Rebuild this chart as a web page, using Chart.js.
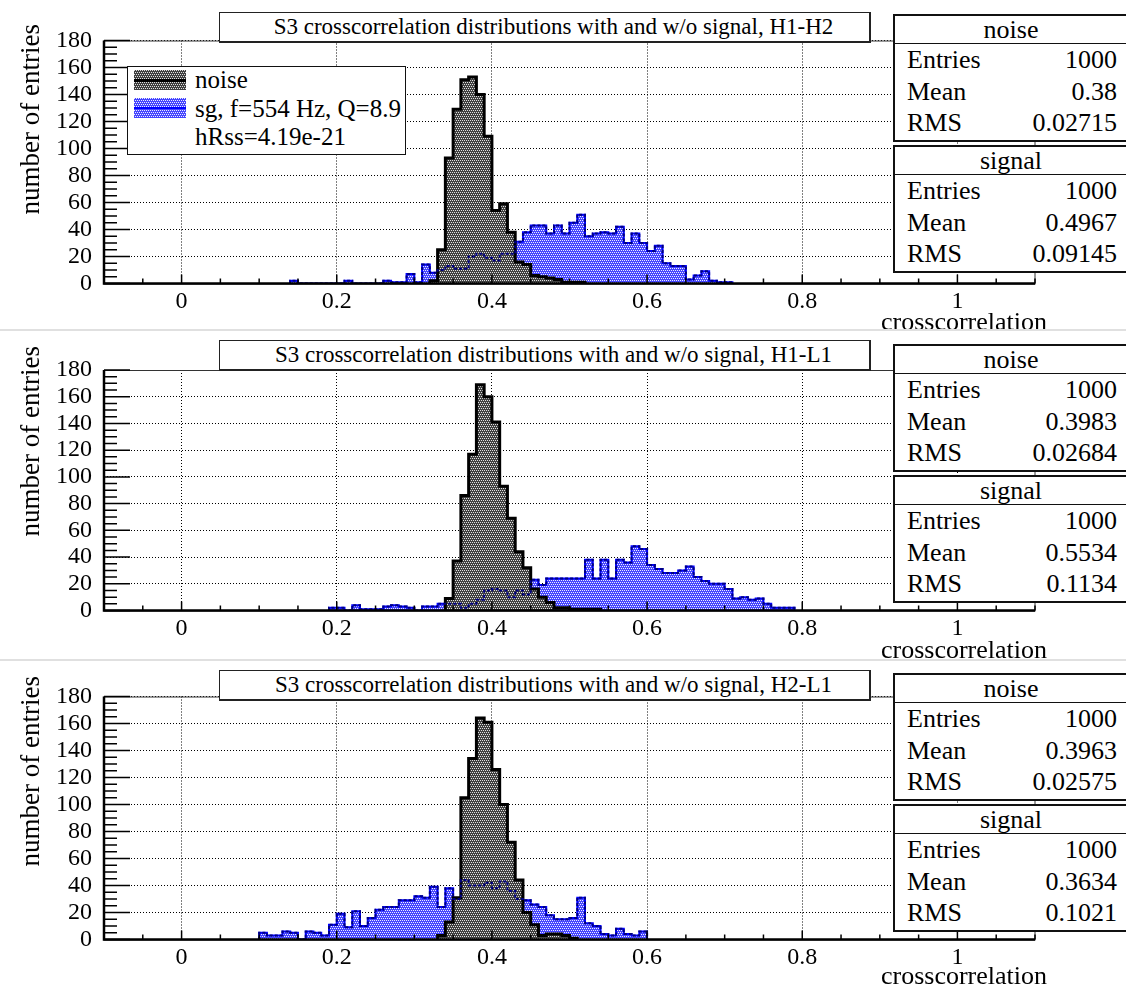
<!DOCTYPE html>
<html>
<head>
<meta charset="utf-8">
<script src="https://cdn.jsdelivr.net/npm/chart.js@4.4.0/dist/chart.umd.min.js"></script>
<style>
  body { margin: 0; background: #fff; }
  #page { position: relative; width: 1126px; height: 990px; overflow: hidden; background: #fff;
          font-family: "Liberation Serif", "Times New Roman", serif; color: #000; }
  .panel { position: absolute; left: 0; width: 1126px; height: 330px; }
  .panel canvas { position: absolute; left: 0; top: 0; }
  .sep { position: absolute; left: 0; width: 1126px; height: 2px; background: #e0e0e0; }
  .title { position: absolute; left: 219px; width: 652px; height: 31px; box-sizing: border-box;
           border: 1px solid #222; border-right-width: 2px; border-bottom-width: 2px; background: #fff;
           font-size: 23px; line-height: 28px; text-align: center; white-space: nowrap; padding-left: 18px; }
  .ytitle { position: absolute; left: 17px; width: 260px; font-size: 27px; line-height: 27px;
            text-align: right; white-space: nowrap; transform-origin: 0 0; transform: rotate(-90deg); }
  .xtitle { position: absolute; left: 797px; width: 250px; font-size: 26px; line-height: 26px;
            text-align: right; white-space: nowrap; }
  .stats { position: absolute; left: 893px; width: 236px; box-sizing: border-box; padding-bottom: 1px;
           border: 2px solid #111; background: #fff; font-size: 26px; }
  .stats .head { height: 27px; line-height: 27px; text-align: center; border-bottom: 1.5px solid #111; }
  .stats .row { height: 31.5px; line-height: 31px; padding: 0 10px 0 12px; display: flex; justify-content: space-between; }
  .legend { position: absolute; left: 127px; top: 66px; width: 279px; height: 89px; box-sizing: border-box;
            border: 1.5px solid #111; background: #fff; font-size: 25px; }
  .legend .item { position: absolute; left: 67px; white-space: nowrap; line-height: 28px; }
  .legend .swatch { position: absolute; left: 6px; width: 52px; height: 20px; image-rendering: pixelated; background-size: 4px 4px; }
  .legend .swatch i { position: absolute; left: 0; right: 0; top: 9px; }
</style>
</head>
<body>
<div id="page"></div>
<script>
// ---- data: counts per 0.01-wide bin, first bin starts at the given edge ----
const binWidth = 0.01;
const xTickValues = [0, 0.2, 0.4, 0.6, 0.8, 1];
const yTickValues = [0, 20, 40, 60, 80, 100, 120, 140, 160, 180];
const statNames = ['Entries', 'Mean', 'RMS'];

// H1-H2
const h1h2NoiseStart = 0.32;
const h1h2Noise = [2, 25, 93, 129, 151, 153, 140, 109, 54, 59, 38, 16, 14, 6, 5, 4, 3, 1, 1, 1];
const h1h2SignalStart = 0.14;
const h1h2Signal = [2, 0, 0, 0, 0, 0, 0, 2, 0, 0, 0, 0, 2, 1, 1, 7, 1, 14, 8, 10, 13, 11, 11, 20, 22, 19,
  17, 22, 22, 31, 38, 43, 43, 37, 43, 37, 45, 51, 35, 37, 38, 37, 42, 30, 37, 30, 24, 28, 15, 13, 13,
  3, 6, 9, 2, 1, 1];
const h1h2NoiseStats = [1000, 0.38, 0.02715];
const h1h2SignalStats = [1000, 0.4967, 0.09145];

// H1-L1
const h1l1NoiseStart = 0.34;
const h1l1Noise = [9, 37, 86, 117, 169, 160, 141, 93, 69, 44, 32, 16, 10, 6, 2, 2, 1, 1, 1, 1];
const h1l1SignalStart = 0.19;
const h1l1Signal = [2, 2, 0, 4, 1, 1, 1, 3, 4, 3, 2, 0, 3, 3, 5, 5, 5, 2, 5, 8, 15, 16, 15, 10, 15, 12,
  23, 19, 24, 24, 24, 24, 24, 38, 24, 38, 24, 38, 36, 48, 46, 34, 31, 28, 28, 30, 33, 25, 22, 20, 20,
  16, 9, 10, 8, 9, 5, 2, 2, 2];
const h1l1NoiseStats = [1000, 0.3983, 0.02684];
const h1l1SignalStats = [1000, 0.5534, 0.1134];

// H2-L1
const h2l1NoiseStart = 0.33;
const h2l1Noise = [3, 13, 31, 105, 134, 164, 161, 126, 100, 72, 44, 20, 11, 3, 4, 4, 3, 1];
const h2l1SignalStart = 0.10;
const h2l1Signal = [5, 3, 3, 6, 5, 0, 6, 5, 3, 11, 19, 9, 21, 10, 16, 22, 24, 24, 29, 29, 32, 31, 39, 24,
  38, 30, 44, 40, 40, 42, 38, 43, 36, 30, 29, 26, 24, 18, 15, 15, 16, 31, 12, 10, 4, 3, 8, 4, 3, 6];
const h2l1NoiseStats = [1000, 0.3963, 0.02575];
const h2l1SignalStats = [1000, 0.3634, 0.1021];

const titleBase = 'S3 crosscorrelation distributions with and w/o signal, ';

// ---- fill patterns (ROOT-like stipple): base colour with a light dot every other pixel ----
function makeTile(base, dot) {
  const c = document.createElement('canvas');
  c.width = 4; c.height = 4;
  const g = c.getContext('2d');
  g.fillStyle = base;
  g.fillRect(0, 0, 4, 4);
  g.fillStyle = dot;
  [[0, 0], [2, 0], [1, 2], [3, 2]].forEach(([x, y]) => g.fillRect(x, y, 1, 1));
  return c;
}
const noiseTile = makeTile('#404040', '#e0e0e0');
const signalTile = makeTile('#4646ff', '#ececff');
const noiseFill = noiseTile.getContext('2d').createPattern(noiseTile, 'repeat');
const signalFill = signalTile.getContext('2d').createPattern(signalTile, 'repeat');

function histPoints(start, counts) {
  const first = Math.round(start / binWidth);
  const pts = [{ x: start, y: 0 }];
  counts.forEach((c, i) => pts.push({ x: (first + i) * binWidth, y: c }));
  pts.push({ x: (first + counts.length) * binWidth, y: 0 });
  return pts;
}

// frame, axes and inward ticks drawn ROOT style
const rootFrame = {
  id: 'rootFrame',
  afterDatasetsDraw(chart) {
    const { ctx, chartArea: a, scales: { x, y } } = chart;
    ctx.save();
    ctx.strokeStyle = '#333';
    ctx.lineWidth = 1;
    ctx.strokeRect(a.left, a.top + 0.5, a.right - a.left, a.bottom - a.top);
    ctx.strokeStyle = '#000';
    ctx.lineWidth = 2.5;
    ctx.beginPath();
    ctx.moveTo(a.left, a.top);
    ctx.lineTo(a.left, a.bottom);
    ctx.lineTo(a.right, a.bottom);
    ctx.stroke();
    ctx.lineWidth = 1.5;
    ctx.beginPath();
    for (let v = 0; v <= y.max; v += 5) {
      const py = y.getPixelForValue(v);
      const len = v % 20 === 0 ? 26 : 13;
      ctx.moveTo(a.left, py);
      ctx.lineTo(a.left + len, py);
    }
    for (let i = -2; i <= 22; i++) {
      const px = x.getPixelForValue(i * 0.05);
      const len = i % 4 === 0 ? 9 : 5;
      ctx.moveTo(px, a.bottom);
      ctx.lineTo(px, a.bottom - len);
    }
    ctx.stroke();
    ctx.restore();
  }
};

const page = document.getElementById('page');

function statsBox(parent, top, name, values) {
  const box = document.createElement('div');
  box.className = 'stats';
  box.style.top = top + 'px';
  let html = `<div class="head">${name}</div>`;
  statNames.forEach((s, i) => {
    html += `<div class="row"><span>${s}</span><span>${values[i]}</span></div>`;
  });
  box.innerHTML = html;
  parent.appendChild(box);
}

function makePanel(p) {
  const div = document.createElement('div');
  div.className = 'panel';
  div.style.top = p.top + 'px';
  const canvas = document.createElement('canvas');
  canvas.width = 1126;
  canvas.height = 330;
  div.appendChild(canvas);
  page.appendChild(div);

  const signalPts = histPoints(p.signalStart, p.signal);
  const noisePts = histPoints(p.noiseStart, p.noise);

  new Chart(canvas.getContext('2d'), {
    type: 'line',
    data: {
      datasets: [
        { // signal outline seen through the noise stipple
          data: signalPts, order: 0, stepped: 'before', fill: false,
          borderColor: '#000080', borderWidth: 2, borderDash: [3, 2], pointRadius: 0
        },
        {
          label: 'noise', data: noisePts, order: 1, stepped: 'before', fill: 'origin',
          backgroundColor: noiseFill, borderColor: '#000', borderWidth: 3,
          borderJoinStyle: 'miter', pointRadius: 0
        },
        {
          label: 'signal', data: signalPts, order: 2, stepped: 'before', fill: 'origin',
          backgroundColor: signalFill, borderColor: '#0000ff', borderWidth: 2,
          borderJoinStyle: 'miter', pointRadius: 0
        }
      ]
    },
    options: {
      responsive: false,
      animation: false,
      devicePixelRatio: 1,
      layout: { padding: { left: 0, right: 91, top: p.areaTop, bottom: 0 } },
      plugins: { legend: { display: false }, tooltip: { enabled: false }, title: { display: false } },
      scales: {
        x: {
          type: 'linear', min: -0.1, max: 1.1,
          afterBuildTicks: (s) => { s.ticks = xTickValues.map(v => ({ value: v })); },
          afterFit: (s) => { s.height = 330 - p.areaBottom; },
          ticks: {
            padding: 4, maxRotation: 0, autoSkip: false, color: '#000',
            font: { family: '"Liberation Serif", serif', size: 24 },
            callback: (v) => String(v)
          },
          grid: { color: '#000', lineWidth: 1, drawTicks: false },
          border: { display: false, dash: [1, 2] }
        },
        y: {
          type: 'linear', min: 0, max: 180,
          afterBuildTicks: (s) => { s.ticks = yTickValues.map(v => ({ value: v })); },
          afterFit: (s) => { s.width = 104; },
          ticks: {
            padding: 12, autoSkip: false, color: '#000',
            font: { family: '"Liberation Serif", serif', size: 24 },
            callback: (v) => String(v)
          },
          grid: { color: '#000', lineWidth: 1, drawTicks: false },
          border: { display: false, dash: [1, 2] }
        }
      }
    },
    plugins: [rootFrame]
  });

  const title = document.createElement('div');
  title.className = 'title';
  title.style.top = p.titleTop + 'px';
  title.textContent = titleBase + p.pair;
  div.appendChild(title);

  const yt = document.createElement('div');
  yt.className = 'ytitle';
  yt.style.top = (p.yTitleTop + 260) + 'px';
  yt.textContent = 'number of entries';
  div.appendChild(yt);

  const xt = document.createElement('div');
  xt.className = 'xtitle';
  xt.style.top = p.xTitleTop + 'px';
  xt.textContent = 'crosscorrelation';
  div.appendChild(xt);

  statsBox(div, p.statsTop, 'noise', p.noiseStats);
  statsBox(div, p.statsTop + 131, 'signal', p.signalStats);
}

const panels = [
  { top: 0, pair: 'H1-H2', areaTop: 40.5, areaBottom: 283.5, titleTop: 12, yTitleTop: 24, xTitleTop: 309, statsTop: 14,
    noiseStart: h1h2NoiseStart, noise: h1h2Noise, signalStart: h1h2SignalStart, signal: h1h2Signal,
    noiseStats: h1h2NoiseStats, signalStats: h1h2SignalStats },
  { top: 330, pair: 'H1-L1', areaTop: 40, areaBottom: 280.5, titleTop: 10, yTitleTop: 16, xTitleTop: 307, statsTop: 14,
    noiseStart: h1l1NoiseStart, noise: h1l1Noise, signalStart: h1l1SignalStart, signal: h1l1Signal,
    noiseStats: h1l1NoiseStats, signalStats: h1l1SignalStats },
  { top: 660, pair: 'H2-L1', areaTop: 36.5, areaBottom: 279.5, titleTop: 10, yTitleTop: 16, xTitleTop: 303, statsTop: 13,
    noiseStart: h2l1NoiseStart, noise: h2l1Noise, signalStart: h2l1SignalStart, signal: h2l1Signal,
    noiseStats: h2l1NoiseStats, signalStats: h2l1SignalStats }
];
panels.forEach(makePanel);

[330, 660].forEach(t => {
  const s = document.createElement('div');
  s.className = 'sep';
  s.style.top = (t - 1) + 'px';
  page.appendChild(s);
});

// legend (first panel only)
const legend = document.createElement('div');
legend.className = 'legend';
const nURL = noiseTile.toDataURL();
const sURL = signalTile.toDataURL();
legend.innerHTML =
  `<div class="swatch" style="top:3px;background-image:url(${nURL})"><i style="height:3px;background:#000"></i></div>` +
  `<div class="item" style="top:-1px">noise</div>` +
  `<div class="swatch" style="top:31px;background-image:url(${sURL})"><i style="height:2px;background:#0000ff"></i></div>` +
  `<div class="item" style="top:28px">sg, f=554 Hz, Q=8.9</div>` +
  `<div class="item" style="top:56px">hRss=4.19e-21</div>`;
page.children[0].appendChild(legend);
</script>
</body>
</html>
